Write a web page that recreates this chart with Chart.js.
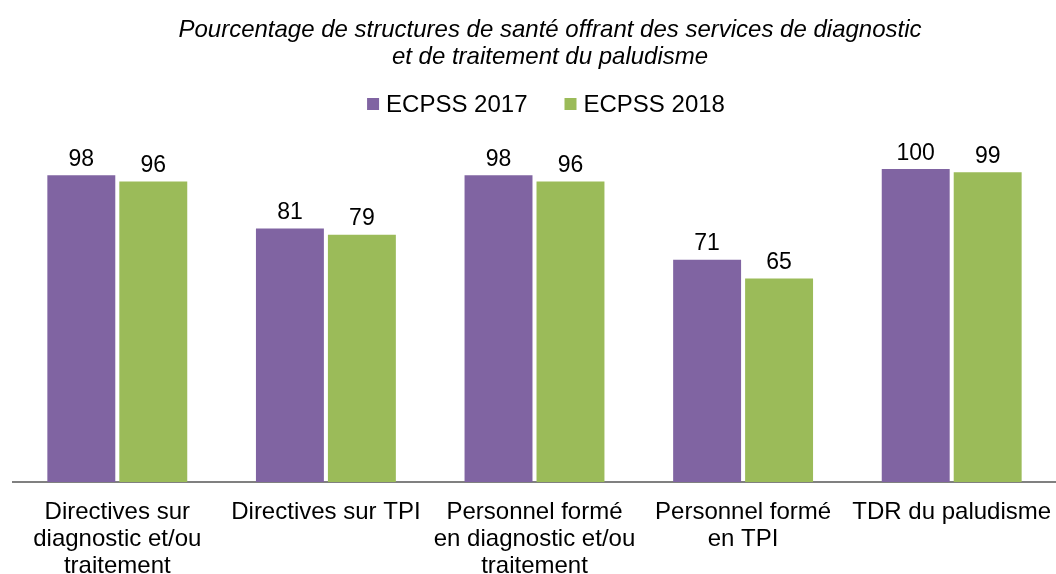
<!DOCTYPE html>
<html lang="fr">
<head>
<meta charset="utf-8">
<title>Services de diagnostic et de traitement du paludisme</title>
<script src="https://cdn.jsdelivr.net/npm/chart.js@4/dist/chart.umd.min.js"></script>
<style>
  html, body { margin: 0; padding: 0; background: #ffffff; }
  canvas { display: block; }
</style>
</head>
<body>
<canvas id="chart" width="1056" height="574"></canvas>
<script>
// Chart content
const titleLines = [
  "Pourcentage de structures de santé offrant des services de diagnostic",
  "et de traitement du paludisme"
];
const categories = [
  ["Directives sur", "diagnostic et/ou", "traitement"],
  ["Directives sur TPI"],
  ["Personnel formé", "en diagnostic et/ou", "traitement"],
  ["Personnel formé", "en TPI"],
  ["TDR du paludisme"]
];
const seriesNames = ["ECPSS 2017", "ECPSS 2018"];
const ecpss2017 = [98, 81, 98, 71, 100];
const ecpss2018 = [96, 79, 96, 65, 99];
const seriesColors = ["#8064A2", "#9BBB59"];

const FONT = "'Liberation Sans', Arial, Helvetica, sans-serif";

// Two-line italic heading above the legend
const headingPlugin = {
  id: "heading",
  afterDraw(chart) {
    const ctx = chart.ctx;
    ctx.save();
    ctx.fillStyle = "#000000";
    ctx.font = "italic 24px " + FONT;
    ctx.textAlign = "center";
    ctx.textBaseline = "alphabetic";
    titleLines.forEach((line, i) => ctx.fillText(line, 550, 37 + i * 27));
    ctx.restore();
  }
};

// Square-marker legend built from the datasets
const keyPlugin = {
  id: "key",
  afterDraw(chart) {
    const ctx = chart.ctx;
    ctx.save();
    ctx.font = "24px " + FONT;
    ctx.textAlign = "left";
    ctx.textBaseline = "alphabetic";
    const box = 12, gapAfterBox = 7, gapBetween = 37;
    const items = chart.data.datasets.map(ds => ({
      label: ds.label, color: ds.backgroundColor,
      w: box + gapAfterBox + ctx.measureText(ds.label).width
    }));
    const total = items.reduce((s, it) => s + it.w, 0) + gapBetween * (items.length - 1);
    let x = 546 - total / 2;
    items.forEach(it => {
      ctx.fillStyle = it.color;
      ctx.fillRect(x, 98, box, box);
      ctx.fillStyle = "#000000";
      ctx.fillText(it.label, x + box + gapAfterBox, 112);
      x += it.w + gapBetween;
    });
    ctx.restore();
  }
};

// Value labels above each bar
const valueLabelPlugin = {
  id: "valueLabels",
  afterDatasetsDraw(chart) {
    const ctx = chart.ctx;
    ctx.save();
    ctx.fillStyle = "#000000";
    ctx.font = "23px " + FONT;
    ctx.textAlign = "center";
    ctx.textBaseline = "alphabetic";
    chart.data.datasets.forEach((ds, di) => {
      chart.getDatasetMeta(di).data.forEach((bar, i) => {
        ctx.fillText(String(ds.data[i]), bar.x, bar.y - 9.5);
      });
    });
    ctx.restore();
  }
};

new Chart(document.getElementById("chart"), {
  type: "bar",
  data: {
    labels: categories,
    datasets: [
      { label: seriesNames[0], data: ecpss2017, backgroundColor: seriesColors[0] },
      { label: seriesNames[1], data: ecpss2018, backgroundColor: seriesColors[1] }
    ]
  },
  options: {
    responsive: false,
    animation: false,
    devicePixelRatio: 1,
    layout: { padding: { top: 169, left: 13, right: -5, bottom: 0 } },
    datasets: { bar: { categoryPercentage: 0.69, barPercentage: 0.944 } },
    plugins: {
      legend: { display: false },
      title: { display: false },
      tooltip: { enabled: false }
    },
    scales: {
      x: {
        grid: { display: false, drawTicks: false },
        border: { display: true, color: "#808080", width: 2 },
        ticks: {
          color: "#000000",
          padding: 16.5,
          maxRotation: 0,
          autoSkip: false,
          font: { family: FONT, size: 24, lineHeight: 1.125 }
        },
        afterFit(scale) {
          // keep the plot area full width; long end labels may overhang
          scale.height = 92;
          scale.paddingLeft = 0;
          scale.paddingRight = 0;
        }
      },
      y: {
        display: false,
        min: 0,
        max: 100
      }
    }
  },
  plugins: [headingPlugin, keyPlugin, valueLabelPlugin]
});
</script>
</body>
</html>
